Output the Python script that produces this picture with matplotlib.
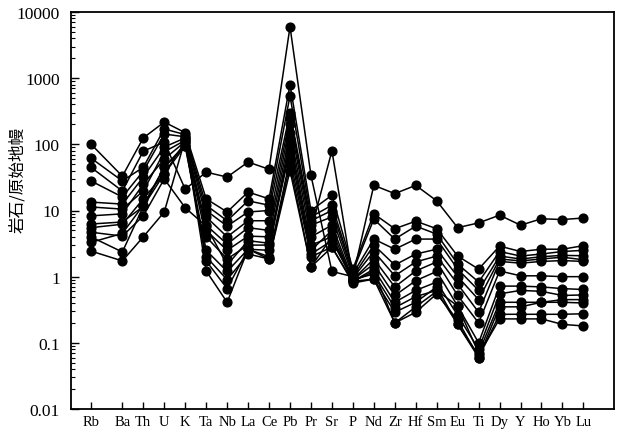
import numpy as np
import matplotlib
matplotlib.use("Agg")
import matplotlib.pyplot as plt
from matplotlib.ticker import LogLocator, FixedLocator, FixedFormatter, NullFormatter

elements = ["Rb", "Ba", "Th", "U", "K", "Ta", "Nb", "La", "Ce", "Pb", "Pr", "Sr",
            "P", "Nd", "Zr", "Hf", "Sm", "Eu", "Ti", "Dy", "Y", "Ho", "Yb", "Lu"]

s01 = [45, 19.7, 79, 108, 21, 38, 32, 54, 42, 6000, 34, 1.2, 1.0, 24, 18, 24, 14, 5.5, 6.5, 8.5, 6.0, 7.5, 7.3, 7.7]
s02 = [101, 33, 125, 217, 150, 15, 9.5, 19, 15, 800, 10, 17, 1.3, 8.9, 5.3, 6.9, 5.3, 2.05, 1.3, 2.9, 2.4, 2.6, 2.6, 2.94]
s03 = [62, 28, 45, 171, 140, 12, 7, 14, 12, 540, 8, 12, 1.2, 7.4, 3.7, 5.8, 4.4, 1.55, 0.83, 2.4, 2.05, 2.2, 2.4, 2.5]
s04 = [28, 16, 39.5, 143, 130, 10, 5.8, 9.5, 10, 300, 7, 10, 1.1, 3.7, 2.6, 3.7, 3.7, 1.3, 0.62, 2.05, 1.85, 2.0, 2.1, 2.07]
s05 = [13.4, 12.5, 32, 91, 125, 8, 4, 7, 7, 250, 6, 8, 1.0, 3.0, 1.5, 2.2, 2.6, 1.0, 0.45, 1.85, 1.73, 1.85, 1.97, 1.8]
s06 = [11.3, 10.5, 19.7, 77, 115, 6, 3.1, 5.5, 5, 200, 5, 80, 0.95, 2.4, 1.03, 1.67, 2.05, 0.77, 0.29, 1.7, 1.6, 1.7, 1.75, 1.7]
s07 = [8.3, 8.9, 25, 60, 110, 5, 2.5, 4.1, 4, 150, 4, 6, 0.9, 1.85, 0.7, 1.22, 1.67, 0.52, 0.2, 1.22, 1.03, 1.03, 1.0, 1.0]
s08 = [6.25, 6.7, 11.5, 45, 100, 4, 1.85, 3, 3, 120, 3, 4, 0.9, 1.55, 0.52, 0.87, 1.2, 0.36, 0.1, 0.72, 0.72, 0.7, 0.66, 0.64]
s09 = [5.5, 6.2, 15, 36, 95, 2.5, 1.2, 2.6, 2.5, 100, 2.5, 5, 0.85, 1.3, 0.41, 0.62, 0.83, 0.26, 0.08, 0.55, 0.62, 0.6, 0.52, 0.53]
s10 = [4.7, 4.1, 8.3, 30, 11, 5.8, 1.5, 3.5, 3.2, 80, 2.2, 3.5, 0.9, 1.1, 0.34, 0.5, 0.62, 0.36, 0.07, 0.41, 0.41, 0.41, 0.45, 0.45]
s11 = [4.0, 2.36, 11.5, 36, 110, 1.73, 0.66, 2.6, 2.0, 60, 2.0, 2.8, 0.85, 0.92, 0.29, 0.41, 0.7, 0.19, 0.06, 0.35, 0.35, 0.41, 0.41, 0.40]
s12 = [3.3, 4.5, 12, 45, 95, 2.0, 0.9, 2.2, 1.85, 50, 1.4, 2.8, 0.8, 0.92, 0.2, 0.29, 0.55, 0.22, 0.06, 0.27, 0.27, 0.27, 0.27, 0.275]
s13 = [2.44, 1.73, 4.0, 9.5, 120, 1.22, 0.41, 2.6, 1.85, 40, 1.4, 4, 0.85, 1.2, 0.2, 0.35, 0.6, 0.19, 0.065, 0.23, 0.23, 0.23, 0.19, 0.18]

series = [s01, s02, s03, s04, s05, s06, s07, s08, s09, s10, s11, s12, s13]

ytick_vals = [0.01, 0.1, 1, 10, 100, 1000, 10000]
ytick_labels = ["0.01", "0.1", "1", "10", "100", "1000", "10000"]

# category positions: Rb stands a half step further left than the rest
xpos = np.arange(len(elements)) + 0.5 * (np.arange(len(elements)) > 0)

fig = plt.figure(figsize=(6.23, 4.31), dpi=100)
ax = fig.add_axes([71 / 623, 21 / 431, 543 / 623, 397 / 431])

for s in series:
    ax.plot(xpos, s, color="black", lw=1.1, marker="o", ms=6.3,
            markerfacecolor="black", markeredgecolor="black", zorder=3)

ax.set_yscale("log")
ax.set_ylim(0.01, 10000)
ax.set_xlim(-0.95, 24.96)

serif = "Liberation Serif"
ax.yaxis.set_major_locator(FixedLocator(ytick_vals))
ax.yaxis.set_major_formatter(FixedFormatter(ytick_labels))
ax.yaxis.set_minor_locator(LogLocator(base=10, subs=np.arange(2, 10)))
ax.yaxis.set_minor_formatter(NullFormatter())
ax.set_xticks(xpos)
ax.set_xticklabels(elements)

ax.tick_params(axis="both", which="both", direction="in", top=False, right=False)
ax.tick_params(axis="y", which="major", length=6, width=1.0, labelsize=12.5, pad=8)
ax.tick_params(axis="y", which="minor", length=3, width=0.8)
ax.tick_params(axis="x", which="major", length=5, width=1.0, labelsize=10.5, pad=4)
for lab in ax.get_xticklabels() + ax.get_yticklabels():
    lab.set_fontfamily(serif)

for sp in ax.spines.values():
    sp.set_linewidth(1.3)

ax.set_ylabel("岩石/原始地幔", family=["Noto Sans CJK SC", "DejaVu Sans"], fontsize=12)
ax.yaxis.set_label_coords(-0.082, 0.58)

fig.savefig("out.png", dpi=100)
